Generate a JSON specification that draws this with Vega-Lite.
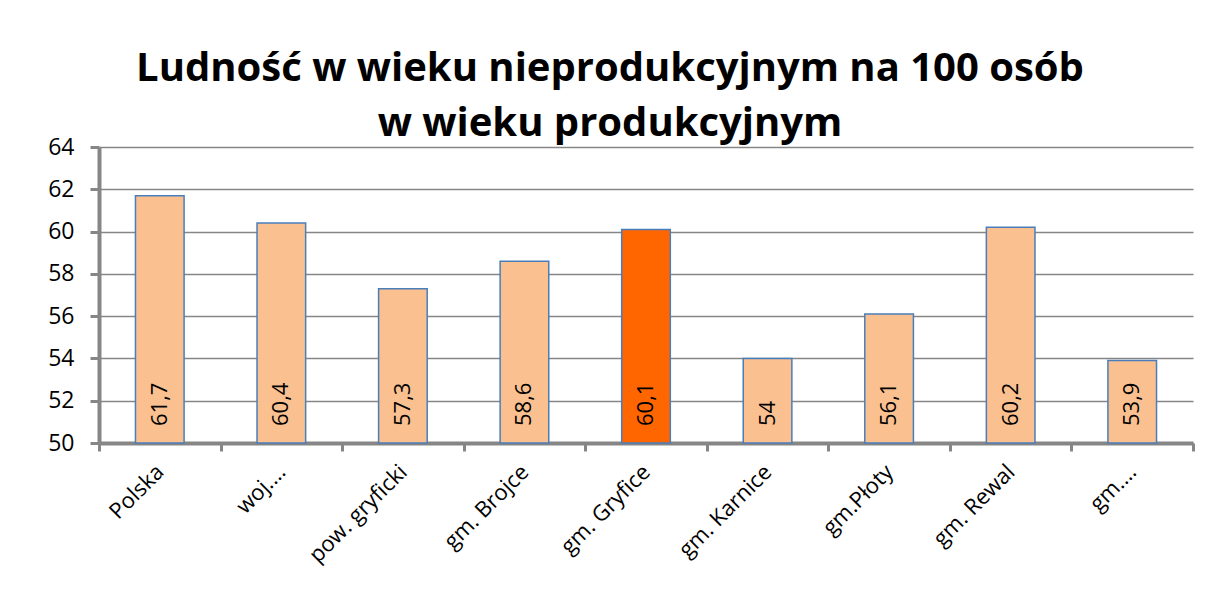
{
  "$schema": "https://vega.github.io/schema/vega-lite/v6.json",
  "width": 1094,
  "height": 296,
  "autosize": {"type": "none"},
  "padding": {"left": 99, "top": 147, "right": 15, "bottom": 153},
  "background": "white",
  "config": {
    "locale": {"number": {"decimal": ",", "thousands": " ", "grouping": [3], "currency": ["", " zł"]}},
    "view": {"stroke": null},
    "font": "Open Sans"
  },
  "title": {
    "text": ["Ludność w wieku nieprodukcyjnym na 100 osób", "w wieku produkcyjnym"],
    "font": "Open Sans",
    "fontSize": 40,
    "fontWeight": "bold",
    "color": "black",
    "anchor": "middle",
    "frame": "group",
    "dx": -36,
    "offset": -8,
    "lineHeight": 55
  },
  "data": {
    "values": [
      {"name": "Polska", "value": 61.7},
      {"name": "woj.…", "value": 60.4},
      {"name": "pow. gryficki", "value": 57.3},
      {"name": "gm. Brojce", "value": 58.6},
      {"name": "gm. Gryfice", "value": 60.1},
      {"name": "gm. Karnice", "value": 54},
      {"name": "gm.Płoty", "value": 56.1},
      {"name": "gm. Rewal", "value": 60.2},
      {"name": "gm.…", "value": 53.9}
    ]
  },
  "encoding": {
    "x": {
      "field": "name",
      "type": "nominal",
      "sort": null,
      "scale": {"paddingInner": 0, "paddingOuter": 0},
      "axis": {
        "title": null,
        "labelAngle": -45,
        "labelAlign": "right",
        "labelBaseline": "middle",
        "labelFontSize": 22,
        "labelColor": "black",
        "labelPadding": 17,
        "labelLimit": 300,
        "domainColor": "#868686",
        "domainWidth": 4,
        "tickColor": "#868686",
        "tickWidth": 3,
        "tickSize": 8,
        "tickBand": "extent",
        "grid": false
      }
    }
  },
  "layer": [
    {
      "mark": {"type": "bar", "stroke": "#4A7EBB", "strokeWidth": 1.5, "width": {"band": 0.4}},
      "encoding": {
        "y": {
          "field": "value",
          "type": "quantitative",
          "scale": {"domain": [50, 64], "zero": false, "nice": false},
          "axis": {
            "title": null,
            "values": [50, 52, 54, 56, 58, 60, 62, 64],
            "labelFontSize": 23,
            "labelColor": "black",
            "labelPadding": 16,
            "domainColor": "#868686",
            "domainWidth": 4,
            "tickColor": "#868686",
            "tickWidth": 3,
            "tickSize": 9,
            "gridColor": "#868686",
            "gridWidth": 1.5
          }
        },
        "y2": {"datum": 50},
        "color": {
          "condition": {"test": "datum.name === 'gm. Gryfice'", "value": "#FF6600"},
          "value": "#FAC090"
        }
      }
    },
    {
      "mark": {"type": "text", "angle": 270, "align": "left", "baseline": "middle", "dx": 17, "fontSize": 22, "color": "black"},
      "encoding": {
        "y": {"datum": 50, "type": "quantitative"},
        "text": {"field": "value", "type": "quantitative", "format": "~r"}
      }
    }
  ]
}
